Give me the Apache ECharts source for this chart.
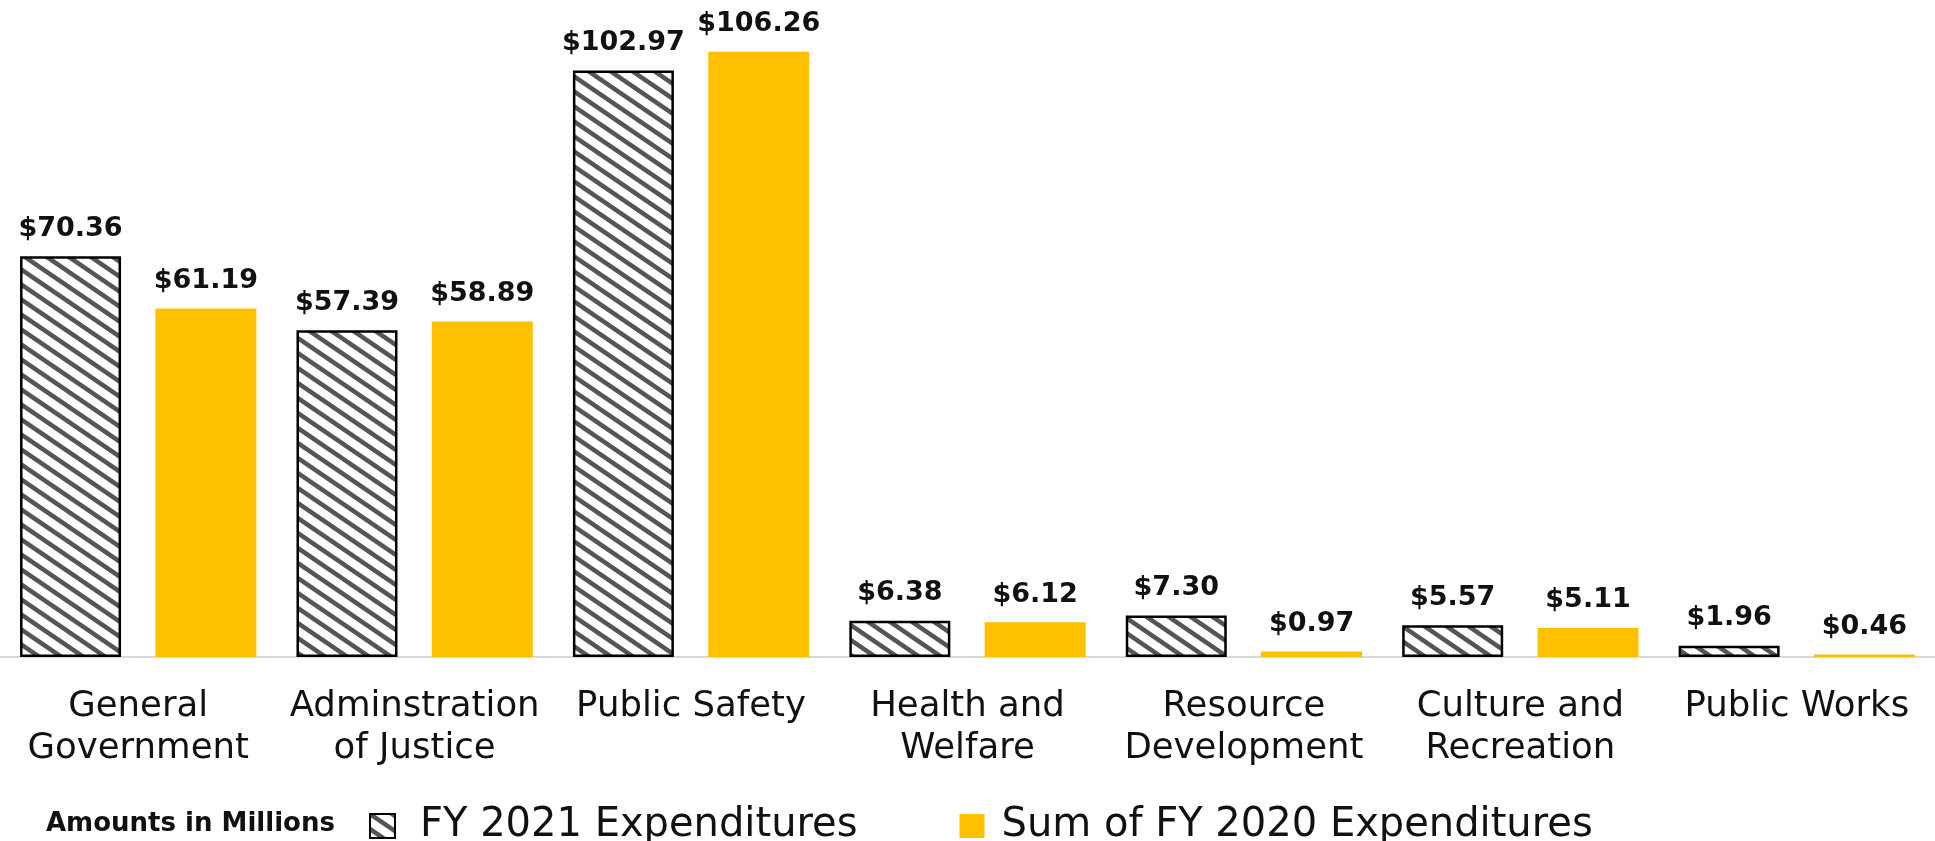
<!DOCTYPE html>
<html style="height: 100%">
    <head>
        <meta charset="utf-8">
    </head>
    <body style="height: 100%; margin: 0; background: #fff">
        <div id="container" style="width: 1935px; height: 841px"></div>

        <script type="text/javascript" src="https://cdn.jsdelivr.net/npm/echarts@6/dist/echarts.min.js"></script>
        <script type="text/javascript">
var categories = ['General\nGovernment', 'Adminstration\nof Justice', 'Public Safety', 'Health and\nWelfare',
    'Resource\nDevelopment', 'Culture and\nRecreation', 'Public Works'];
var fy2021 = [70.36, 57.39, 102.97, 6.38, 7.30, 5.57, 1.96];
var fy2020 = [61.19, 58.89, 106.26, 6.12, 0.97, 5.11, 0.46];

var dom = document.getElementById("container");
var myChart = echarts.init(dom);
var option;

// diagonal hatch like the excel pattern fill
function makeHatch() {
    var w = 22, h = 15;
    var c = document.createElement('canvas');
    c.width = w;
    c.height = h;
    var ctx = c.getContext('2d');
    ctx.fillStyle = '#ffffff';
    ctx.fillRect(0, 0, w, h);
    ctx.strokeStyle = '#555555';
    ctx.lineWidth = 4.5;
    [-w, 0, w].forEach(function (dx) {
        ctx.beginPath();
        ctx.moveTo(dx - w, -h);
        ctx.lineTo(dx + 2 * w, 2 * h);
        ctx.stroke();
    });
    return c;
}

var labelStyle = {
    show: true,
    position: 'top',
    distance: 14,
    fontFamily: 'DejaVu Sans',
    fontWeight: 'bold',
    fontSize: 27,
    color: '#111',
    formatter: function (p) {
        return '$' + p.value.toFixed(2);
    }
};

option = {
    animation: false,
    textStyle: { fontFamily: 'DejaVu Sans' },
    grid: { left: 0, right: 0, top: 2, bottom: 184 },
    graphic: [{
        type: 'text',
        left: 46,
        top: 811,
        style: {
            text: 'Amounts in Millions',
            fontFamily: 'DejaVu Sans',
            fontWeight: 'bold',
            fontSize: 26,
            fill: '#111'
        }
    }],
    legend: {
        left: 364,
        top: 801,
        itemWidth: 25,
        itemHeight: 24,
        itemGap: 102,
        icon: 'rect',
        data: [
            { name: 'FY 2021 Expenditures' },
            { name: 'Sum of FY 2020 Expenditures', textStyle: { padding: [0, 0, 0, 12] } }
        ],
        textStyle: {
            fontFamily: 'DejaVu Sans',
            fontSize: 40,
            color: '#111',
            padding: [0, 0, 0, 20]
        }
    },
    xAxis: {
        type: 'category',
        data: categories,
        axisTick: { show: false },
        axisLine: { lineStyle: { color: '#d9d9d9', width: 2 } },
        axisLabel: {
            margin: 29,
            interval: 0,
            fontFamily: 'DejaVu Sans',
            fontSize: 35.5,
            lineHeight: 42,
            color: '#111'
        }
    },
    yAxis: {
        type: 'value',
        min: 0,
        max: 115,
        show: false,
        splitLine: { show: false }
    },
    series: [
        {
            name: 'FY 2021 Expenditures',
            type: 'bar',
            data: fy2021,
            barWidth: 101,
            barGap: '34%',
            itemStyle: {
                color: { image: makeHatch(), repeat: 'repeat' },
                borderColor: '#000',
                borderWidth: 2.5
            },
            label: labelStyle
        },
        {
            name: 'Sum of FY 2020 Expenditures',
            type: 'bar',
            data: fy2020,
            barWidth: 101,
            itemStyle: { color: '#FFC000' },
            label: labelStyle
        }
    ]
};

myChart.setOption(option);
        </script>
    </body>
</html>
